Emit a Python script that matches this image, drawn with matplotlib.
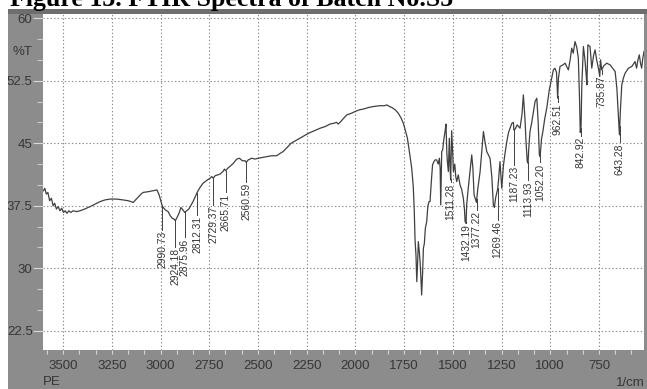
import numpy as np
import matplotlib
matplotlib.use("Agg")
import matplotlib.pyplot as plt
from matplotlib.patches import Rectangle
from matplotlib.ticker import MultipleLocator, FixedLocator

# ---- data -----------------------------------------------------------------
wavenumber = [
    3601, 3594, 3586, 3578, 3569, 3560, 3551, 3543, 3534, 3525, 3516, 3507, 3498, 3489,
    3480, 3470, 3460, 3448, 3430, 3413, 3390, 3361, 3335, 3310, 3285, 3259, 3225, 3192,
    3165, 3140, 3120, 3100, 3089, 3060, 3040, 3018, 3007, 2995, 2990, 2975, 2961, 2950,
    2940, 2930, 2924, 2915, 2905, 2895, 2885, 2876, 2866, 2855, 2845, 2833, 2820, 2812,
    2800, 2782, 2765, 2746, 2737, 2729, 2720, 2694, 2680, 2672, 2666, 2655, 2640, 2626,
    2609, 2595, 2580, 2566, 2560, 2550, 2532, 2515, 2498, 2475, 2455, 2430, 2404, 2385,
    2371, 2350, 2330, 2300, 2270, 2240, 2210, 2181, 2155, 2130, 2110, 2096, 2088, 2075,
    2060, 2044, 2020, 2002, 1980, 1959, 1930, 1908, 1875, 1850, 1839, 1825, 1814, 1795,
    1780, 1765, 1754, 1742, 1733, 1726, 1720, 1711, 1703, 1698, 1694, 1689, 1685, 1681,
    1677, 1672, 1668, 1664, 1660, 1655, 1651, 1646, 1641, 1634, 1628, 1622, 1617, 1610,
    1604, 1597, 1591, 1583, 1575, 1569, 1565, 1562, 1557, 1552, 1546, 1540, 1535, 1531,
    1528, 1523, 1518, 1514, 1511, 1506, 1501, 1497, 1490, 1485, 1480, 1472, 1463, 1455,
    1446, 1440, 1437, 1432, 1429, 1420, 1412, 1403, 1397, 1391, 1384, 1379, 1372, 1360,
    1350, 1343, 1335, 1326, 1309, 1300, 1292, 1287, 1280, 1270, 1266, 1258, 1249, 1240,
    1232, 1223, 1214, 1206, 1197, 1189, 1187, 1180, 1170, 1155, 1145, 1138, 1130, 1124,
    1118, 1114, 1110, 1104, 1095, 1085, 1078, 1069, 1062, 1056, 1052, 1045, 1038, 1028,
    1018, 1005, 993, 984, 976, 968, 962, 958, 950, 935, 924, 916, 907, 898,
    890, 882, 873, 864, 856, 850, 846, 842, 838, 830, 822, 816, 812, 807,
    796, 787, 778, 770, 762, 753, 746, 742, 736, 725, 710, 693, 680, 667,
    658, 650, 645, 640, 633, 625, 616, 599, 582, 570, 565, 557, 550, 543,
    537, 531, 525, 519,
]
transmittance = [
    39.3, 39.6, 38.9, 39.1, 38.1, 38.4, 37.5, 37.8, 37.1, 37.4, 36.9, 37.2, 36.7, 36.9,
    36.6, 36.9, 36.7, 36.9, 36.8, 36.9, 37.1, 37.4, 37.7, 38.0, 38.2, 38.3, 38.3, 38.2,
    38.1, 37.9, 38.4, 38.9, 39.1, 39.2, 39.3, 39.4, 38.8, 37.8, 37.4, 37.0, 36.8, 36.3,
    36.0, 35.9, 35.7, 36.1, 36.6, 37.3, 37.0, 36.7, 36.9, 37.1, 37.5, 38.0, 38.7, 39.1,
    39.6, 40.2, 40.5, 40.8, 41.0, 40.8, 41.1, 41.3, 41.6, 41.9, 41.7, 42.0, 42.3, 42.6,
    43.1, 43.2, 42.9, 42.9, 42.7, 43.0, 43.2, 43.1, 43.2, 43.3, 43.4, 43.5, 43.5, 43.8,
    44.0, 44.5, 45.0, 45.4, 45.8, 46.2, 46.5, 46.8, 47.0, 47.3, 47.4, 47.5, 47.3, 47.6,
    48.0, 48.4, 48.6, 48.8, 49.0, 49.1, 49.3, 49.4, 49.5, 49.5, 49.6, 49.4, 49.3, 49.0,
    48.6, 48.0, 47.4, 46.4, 45.6, 44.5, 43.5, 42.0, 39.8, 37.0, 33.5, 31.5, 28.4, 30.5,
    33.2, 32.0, 30.8, 29.0, 26.8, 29.5, 32.4, 33.0, 34.8, 35.6, 37.5, 38.0, 38.0, 40.5,
    42.4, 42.8, 43.0, 43.0, 42.5, 43.2, 42.0, 37.6, 44.0, 44.2, 45.5, 46.4, 47.3, 44.0,
    42.8, 41.6, 45.6, 42.0, 40.6, 46.5, 44.0, 41.6, 42.5, 41.0, 40.4, 41.2, 40.0, 39.5,
    38.4, 37.0, 35.6, 35.4, 37.6, 39.8, 41.6, 43.6, 42.0, 38.8, 38.3, 37.9, 39.5, 41.6,
    44.5, 46.4, 45.2, 44.0, 43.2, 41.0, 37.6, 37.3, 38.5, 39.5, 40.4, 42.8, 39.6, 42.4,
    43.8, 45.2, 46.3, 46.8, 47.4, 47.5, 46.6, 46.7, 47.2, 46.8, 48.5, 50.8, 48.0, 45.0,
    42.8, 42.6, 44.5, 46.4, 47.5, 49.0, 50.0, 50.4, 47.5, 43.6, 43.4, 45.5, 46.4, 48.0,
    49.2, 51.4, 52.8, 53.8, 54.0, 53.5, 50.4, 52.8, 54.2, 54.4, 54.6, 54.2, 53.8, 55.0,
    56.4, 55.8, 57.2, 56.5, 55.2, 50.5, 46.3, 47.0, 52.0, 56.6, 55.0, 53.3, 52.0, 56.8,
    56.6, 54.0, 55.5, 56.2, 55.0, 54.0, 53.0, 55.0, 53.8, 54.3, 54.6, 54.4, 54.0, 53.6,
    51.5, 48.0, 46.0, 49.0, 52.0, 52.8, 53.4, 54.0, 54.2, 54.6, 54.8, 54.0, 55.0, 55.6,
    54.6, 54.0, 55.2, 56.0,
]
peak_labels = ["2990.73", "2924.18", "2875.96", "2812.31", "2729.37", "2665.71", "2560.59",
               "1511.28", "1432.19", "1377.22", "1269.46", "1187.23", "1113.93", "1052.20",
               "962.51", "842.92", "735.87", "643.28"]
x_ticks = [3500, 3250, 3000, 2750, 2500, 2250, 2000, 1750, 1500, 1250, 1000, 750]
y_ticks = [22.5, 30, 37.5, 45, 52.5, 60]

# ---- layout (pixel geometry of the instrument printout) -------------------
W, H = 647, 389
# %T where each peak label text starts (top end of the rotated number)
label_top = [34.6, 32.6, 33.7, 36.4, 37.6, 39.1, 40.4,
             40.3, 35.5, 37.0, 35.8, 42.4, 40.6, 42.7,
             49.9, 45.9, 53.3, 45.1]

PANEL = "#8c8c8c"
STRIP = "#6e6e6e"
INK = "#363636"
LINE = "#404040"
NUM_FONT = ["Liberation Sans", "DejaVu Sans"]


def fx(px):
    return px / W


def fy(py):
    return 1 - py / H


fig = plt.figure(figsize=(W / 100, H / 100), dpi=100)
fig.patch.set_facecolor("white")
fig.add_artist(Rectangle((fx(8), 0), 1 - fx(8), fy(9), transform=fig.transFigure,
                         color=PANEL, lw=0, zorder=-10))
fig.add_artist(Rectangle((fx(8), fy(14)), 1 - fx(8), fy(9) - fy(14), transform=fig.transFigure,
                         color=STRIP, lw=0, zorder=-9))
fig.add_artist(Rectangle((0, 0), fx(8), fy(9), transform=fig.transFigure,
                         color="white", lw=0, zorder=10))

fig.text(fx(10), fy(6), "Figure 13. FTIR Spectra of Batch No.S5", family="Liberation Serif",
         weight="bold", fontsize=18.6, ha="left", va="baseline", color="black")

ax = fig.add_axes([fx(43), fy(350), fx(644) - fx(43), fy(14) - fy(350)])
ax.set_facecolor("white")
for s in ax.spines.values():
    s.set_visible(False)

ax.plot(wavenumber, transmittance, color=LINE, lw=0.9, zorder=3)

# peak annotations: leader from the trace down to a vertical number
wn_asc = np.array(wavenumber[::-1], float)
t_asc = np.array(transmittance[::-1], float)
for lab, top in zip(peak_labels, label_top):
    w = float(lab)
    t_peak = np.interp(w, wn_asc, t_asc)
    ax.plot([w, w], [t_peak, top], color=LINE, lw=0.7, zorder=3)
    ax.text(w, top - 0.15, lab, rotation=90, ha="center", va="top", fontsize=7.4,
            family=NUM_FONT, color=INK, zorder=4)

ax.set_xlim(3603, 519)
ax.set_ylim(20.2, 60.5)
ax.xaxis.set_major_locator(FixedLocator(x_ticks))
ax.xaxis.set_minor_locator(MultipleLocator(250 / 3))
ax.yaxis.set_major_locator(FixedLocator(y_ticks))
ax.yaxis.set_minor_locator(MultipleLocator(2.5))
ax.set_xticklabels([str(v) for v in x_ticks])
ax.set_yticklabels([f"{v:g}" for v in y_ticks])
ax.grid(which="major", color="#8a8a8a", lw=0.8, ls=(0, (1.2, 2.0)))
ax.set_axisbelow(True)

ax.tick_params(axis="x", which="both", direction="out", length=3, width=0.8, color="#d8d8d8",
               labelsize=9.5, labelcolor=INK, pad=4.5)
ax.tick_params(axis="y", which="major", direction="out", length=7, width=0.8, color="#d8d8d8",
               labelsize=9.5, labelcolor=INK, pad=0.5)
ax.tick_params(axis="y", which="minor", direction="out", length=4, width=0.8, color="#c8c8c8")
for lbl in ax.get_xticklabels() + ax.get_yticklabels():
    lbl.set_family(NUM_FONT)

fig.text(fx(32), fy(52), "%T", family=NUM_FONT, fontsize=9.5, color=INK, ha="right", va="center")
fig.text(fx(43), fy(382), "PE", family=NUM_FONT, fontsize=9.5, color=INK, ha="left", va="center")
fig.text(fx(645), fy(383), "1/cm", family=NUM_FONT, fontsize=9.5, color=INK, ha="right", va="center")

fig.savefig("out.png", dpi=100, facecolor=fig.get_facecolor())
